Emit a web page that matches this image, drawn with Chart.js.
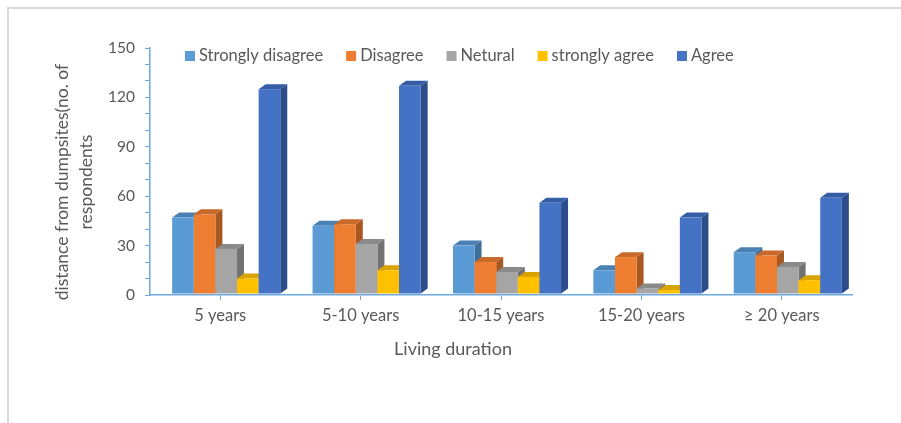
<!DOCTYPE html>
<html>
<head>
<meta charset="utf-8">
<script src="https://cdn.jsdelivr.net/npm/chart.js@4.4.1/dist/chart.umd.min.js"></script>
<style>
  html, body { margin: 0; padding: 0; background: #ffffff; }
  #wrap { position: relative; width: 901px; height: 423px; }
</style>
</head>
<body>
<div id="wrap"><canvas id="chart" width="901" height="423"></canvas></div>
<script>
// Living duration groups and respondent counts per answer
const categories = ['5 years', '5-10 years', '10-15 years', '15-20 years', '\u2265 20 years'];
const seriesNames = ['Strongly disagree', 'Disagree', 'Netural', 'strongly agree', 'Agree'];
const stronglyDisagree = [47, 42, 30, 15, 26];
const disagree = [49, 43, 20, 23, 24];
const netural = [28, 31, 14, 4, 17];
const stronglyAgree = [10, 15, 11, 3, 9];
const agree = [125, 127, 56, 47, 59];
const yTickLabels = [0, 30, 60, 90, 120, 150];

const yTitleLines = ['distance from dumpsites(no. of', 'respondents'];
const xTitle = 'Living duration';

// front / top / side shades for each series
const palette = [
  { front: '#5B9BD5', top: '#4A81B4', side: '#3F6E99' },
  { front: '#ED7D31', top: '#C9692A', side: '#A95822' },
  { front: '#A5A5A5', top: '#8A8A8A', side: '#737373' },
  { front: '#FFC000', top: '#D9A300', side: '#B58800' },
  { front: '#4472C4', top: '#355DA6', side: '#2C4D8A' }
];

const FONT = 'Lato, "Open Sans", sans-serif';
const TEXT = '#595959';
const AXIS = '#6FA8DC';

const seriesValues = [stronglyDisagree, disagree, netural, stronglyAgree, agree];

// 3D column faces drawn from each bar element's geometry
const DX = 7, DY = 5, SHIFT = 6;
const column3d = {
  id: 'column3d',
  afterDatasetsDraw(chart) {
    const ctx = chart.ctx;
    const n = chart.data.labels.length;
    ctx.save();
    for (let i = 0; i < n; i++) {
      chart.data.datasets.forEach((ds, di) => {
        const el = chart.getDatasetMeta(di).data[i];
        if (!el) return;
        const p = el.getProps(['x', 'y', 'base', 'width'], true);
        const l = p.x - p.width / 2 + SHIFT, r = p.x + p.width / 2 + SHIFT;
        const t = p.y, b = p.base - 1;
        const c = palette[di];
        // side
        ctx.fillStyle = c.side;
        ctx.beginPath();
        ctx.moveTo(r, t); ctx.lineTo(r + DX, t - DY); ctx.lineTo(r + DX, b - DY); ctx.lineTo(r, b);
        ctx.closePath(); ctx.fill();
        // top
        ctx.fillStyle = c.top;
        ctx.beginPath();
        ctx.moveTo(l, t); ctx.lineTo(l + DX, t - DY); ctx.lineTo(r + DX, t - DY); ctx.lineTo(r, t);
        ctx.closePath(); ctx.fill();
        // front
        ctx.fillStyle = c.front;
        ctx.fillRect(l, t, r - l, b - t);
      });
    }
    ctx.restore();
  }
};

// frame, legend and axis titles
const decorations = {
  id: 'decorations',
  beforeDraw(chart) {
    const ctx = chart.ctx;
    ctx.save();
    ctx.fillStyle = '#ffffff';
    ctx.fillRect(0, 0, chart.width, chart.height);
    ctx.strokeStyle = '#D9D9D9';
    ctx.lineWidth = 2;
    ctx.beginPath();
    ctx.moveTo(8, chart.height); ctx.lineTo(8, 8); ctx.lineTo(chart.width, 8);
    ctx.stroke();
    ctx.restore();
  },
  afterDraw(chart) {
    const ctx = chart.ctx;
    ctx.save();
    ctx.fillStyle = TEXT;
    ctx.font = '16.5px ' + FONT;
    ctx.textBaseline = 'middle';
    ctx.textAlign = 'left';
    // legend row
    let x = 185;
    const ly = 56;
    chart.data.datasets.forEach((ds, di) => {
      ctx.fillStyle = palette[di].front;
      ctx.fillRect(x, ly - 5, 10, 10);
      ctx.fillStyle = TEXT;
      ctx.fillText(ds.label, x + 14, ly);
      x += 14 + ctx.measureText(ds.label).width + 23;
    });
    // x title
    ctx.font = '18px ' + FONT;
    ctx.textAlign = 'center';
    ctx.fillText(xTitle, 453, 349);
    // y title, two rotated lines
    ctx.font = '17.5px ' + FONT;
    ctx.translate(74, 182);
    ctx.rotate(-Math.PI / 2);
    ctx.fillText(yTitleLines[0], 0, -12);
    ctx.fillText(yTitleLines[1], 0, 12);
    ctx.restore();
  }
};

new Chart(document.getElementById('chart'), {
  type: 'bar',
  data: {
    labels: categories,
    datasets: seriesValues.map((vals, i) => ({
      label: seriesNames[i],
      data: vals,
      backgroundColor: 'rgba(0,0,0,0)',
      borderWidth: 0,
      categoryPercentage: 0.77,
      barPercentage: 1.0
    }))
  },
  options: {
    responsive: false,
    animation: false,
    devicePixelRatio: 1,
    layout: { padding: { left: 0, right: 49, top: 48, bottom: 0 } },
    plugins: {
      legend: { display: false },
      tooltip: { enabled: false }
    },
    scales: {
      x: {
        grid: {
          offset: false,
          drawOnChartArea: false,
          drawTicks: true,
          tickLength: 5,
          color: AXIS
        },
        border: { color: AXIS, width: 1.5 },
        ticks: {
          color: TEXT,
          font: { family: FONT, size: 16.5 },
          padding: 6,
          maxRotation: 0
        },
        afterFit(scale) { scale.height = 423 - 295; }
      },
      y: {
        min: 0,
        max: 150,
        grid: {
          drawOnChartArea: false,
          drawTicks: true,
          tickLength: 5,
          color: AXIS
        },
        border: { color: AXIS, width: 1.5 },
        ticks: {
          stepSize: 10,
          autoSkip: false,
          color: TEXT,
          font: { family: FONT, size: 15.5 },
          padding: 10,
          callback(v) { return yTickLabels.includes(v) ? String(v) : ''; }
        },
        afterFit(scale) { scale.width = 150; }
      }
    }
  },
  plugins: [decorations, column3d]
});
</script>
</body>
</html>
